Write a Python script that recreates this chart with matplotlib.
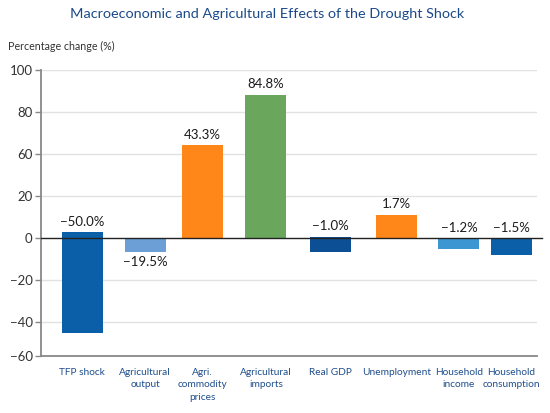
import matplotlib
matplotlib.use("Agg")
import matplotlib.pyplot as plt
import numpy as np

plt.rcParams['font.family'] = ['Lato', 'DejaVu Sans']

# categories and bar extents as drawn on the chart's axis
categories = ["TFP shock", "Agricultural\noutput", "Agri.\ncommodity\nprices",
              "Agricultural\nimports", "Real GDP", "Unemployment",
              "Household\nincome", "Household\nconsumption"]
bar_top = [2.8, 0, 44.1, 68.3, 0.5, 11.0, 0, 0]
bar_bottom = [-45.5, -6.8, 0, 0, -6.8, 0, -5.6, -8.4]
value_labels = ["\u221250.0%", "\u221219.5%", "43.3%", "84.8%",
                "\u22121.0%", "1.7%", "\u22121.2%", "\u22121.5%"]
label_below = [False, True, False, False, False, False, False, False]
colors = ["#0b5fa9", "#6b9fd6", "#ff8618", "#6aa75c",
          "#0d4f95", "#ff8618", "#3c96d2", "#0b5fa9"]

ytick_pos = [80, 60, 40, 20, 0, -20, -40, -56.3]
ytick_labels = ["100", "80", "60", "20", "0", "\u221220", "\u221240", "\u221260"]

# bar slots (layout), slightly uneven like the original
x = np.array([0, 1.03, 1.96, 3.0, 4.06, 5.13, 6.15, 7.0])

fig = plt.figure(figsize=(5.5, 4.13), dpi=100)
ax = fig.add_axes([0.0745, 0.1387, 0.9015, 0.6918])

heights = np.array(bar_top) - np.array(bar_bottom)
ax.bar(x, heights, bottom=bar_bottom, width=0.67, color=colors, zorder=3)

for xi, t, b, lab, below in zip(x, bar_top, bar_bottom, value_labels, label_below):
    if below:
        ax.text(xi, b - 2.0, lab, ha='center', va='top', fontsize=9.5, color='#1a1a1a')
    else:
        ax.text(xi, max(t, 0) + 2.0, lab, ha='center', va='bottom', fontsize=9.5, color='#1a1a1a')

ax.set_xlim(-0.67, 7.42)
ax.set_ylim(-56.3, 80)

# grid lines
for yv in ytick_pos[:-1]:
    if yv != 0:
        ax.axhline(yv, color='#e2e2e2', lw=1, zorder=0)
ax.plot([0, 1.01], [0, 0], transform=ax.get_yaxis_transform(), color='#222222',
        lw=1, zorder=4, clip_on=False)

ax.set_yticks(ytick_pos)
ax.set_yticklabels(ytick_labels, fontsize=9.5, color='#333333')
ax.set_xticks(x)
ax.set_xticklabels(categories, fontsize=7.3, color='#1f4e8c', linespacing=1.45)
ax.tick_params(axis='x', length=0, pad=9)
ax.tick_params(axis='y', length=4, width=1, color='#888888', pad=2)

for s in ['top', 'right']:
    ax.spines[s].set_visible(False)
ax.spines['left'].set_color('#888888')
ax.spines['left'].set_linewidth(1.3)
ax.spines['bottom'].set_color('#888888')
ax.spines['bottom'].set_linewidth(1.3)

fig.text(0.486, 0.966, "Macroeconomic and Agricultural Effects of the Drought Shock",
         ha='center', va='center', fontsize=10.4, color='#1b4a8a')
fig.text(0.015, 0.888, "Percentage change (%)", ha='left', va='center',
         fontsize=7.7, color='#333333')

fig.savefig("out.png", dpi=100, facecolor='white')
